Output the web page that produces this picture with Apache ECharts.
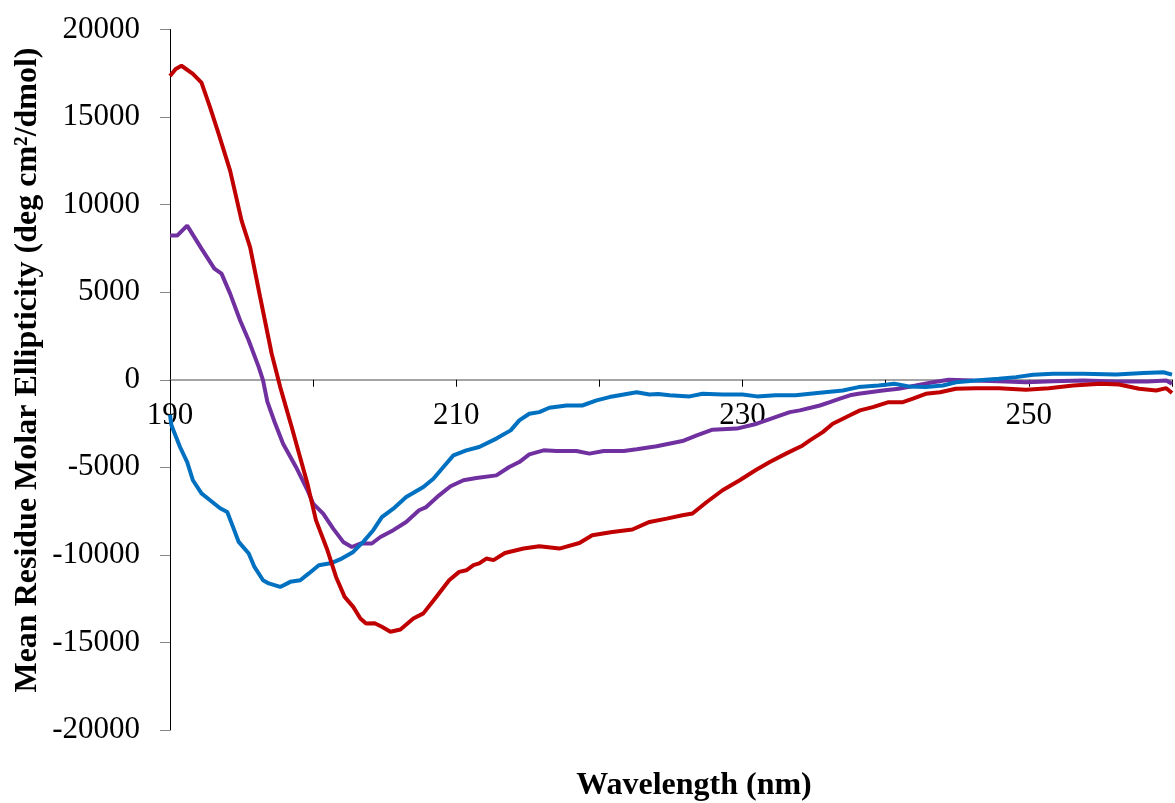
<!DOCTYPE html>
<html>
<head>
<meta charset="utf-8">
<script src="https://cdn.jsdelivr.net/npm/echarts@6/dist/echarts.min.js"></script>
<style>
html,body{margin:0;padding:0;background:#fff;}
#chart{width:1175px;height:803px;}
</style>
</head>
<body>
<div id="chart"></div>
<script>
// ---- Data ----
const yTitle = 'Mean Residue Molar Ellipticity (deg cm\u00B2/dmol)';
const xTitle = 'Wavelength (nm)';

const redWavelength = [190.0,190.4,190.8,191.6,192.2,192.8,193.4,194.2,195.0,195.6,196.3,197.1,197.7,198.5,199.6,200.2,201.0,201.6,202.2,202.8,203.3,203.7,204.3,204.8,205.4,206.1,207.0,207.7,208.6,209.5,210.2,210.7,211.2,211.6,212.1,212.6,213.4,214.7,215.8,217.2,218.6,219.5,220.9,222.3,223.5,224.7,225.8,226.5,227.5,228.6,229.8,230.9,231.9,233.1,234.2,234.7,235.6,236.3,237.5,238.2,239.1,240.2,241.2,241.9,242.8,243.8,244.9,246.3,247.9,249.8,251.4,253.1,255.0,256.3,257.7,258.9,259.6,260.0];
const redValues = [17350,17750,17930,17470,16970,15550,14040,11940,9085,7560,4710,1500,-420,-2700,-5930,-8030,-9740,-11260,-12400,-12970,-13630,-13920,-13900,-14100,-14390,-14260,-13630,-13340,-12400,-11450,-10970,-10880,-10590,-10490,-10210,-10300,-9890,-9640,-9510,-9640,-9320,-8880,-8690,-8550,-8120,-7930,-7740,-7640,-6980,-6310,-5740,-5170,-4700,-4190,-3750,-3460,-2990,-2510,-2030,-1750,-1560,-1280,-1280,-1080,-800,-710,-510,-480,-480,-570,-480,-330,-230,-270,-510,-610,-480,-760];

const purpleWavelength = [190.0,190.5,191.2,192.2,193.1,193.6,194.2,194.9,195.5,196.2,196.5,196.8,197.3,197.9,198.8,199.6,200.0,200.7,201.4,202.1,202.7,203.3,204.1,204.7,205.6,206.5,207.4,207.9,208.8,209.6,210.5,211.4,212.8,213.7,214.4,215.1,216.1,217.0,218.4,219.3,220.3,221.7,222.6,224.0,225.8,226.8,227.9,229.6,231.0,232.3,233.3,234.0,235.4,236.1,236.8,237.5,238.1,239.8,240.9,242.1,243.3,244.4,246.1,247.9,249.8,251.7,253.8,256.1,258.3,259.6,260.0];
const purpleValues = [8230,8230,8800,7490,6350,6060,4920,3380,2240,720,-40,-1250,-2400,-3650,-4980,-6300,-7070,-7640,-8500,-9260,-9550,-9350,-9350,-8980,-8590,-8120,-7450,-7270,-6600,-6080,-5740,-5610,-5460,-4980,-4700,-4260,-4030,-4070,-4070,-4220,-4070,-4070,-3970,-3800,-3500,-3180,-2850,-2790,-2510,-2130,-1850,-1750,-1470,-1280,-1080,-890,-800,-610,-510,-330,-140,0,-40,-80,-140,-80,-40,-100,-100,-40,-230];

const blueWavelength = [190.0,190.1,190.7,191.2,191.6,192.2,192.8,193.5,194.0,194.4,194.8,195.5,195.9,196.5,196.9,197.7,198.4,199.1,199.7,200.4,201.3,202.0,202.8,203.5,204.2,204.8,205.6,206.5,207.7,208.4,209.1,209.8,210.7,211.6,212.8,213.8,214.4,215.1,215.8,216.5,217.7,218.8,219.8,220.7,221.7,222.6,223.5,224.1,224.9,226.3,227.2,228.6,230.0,231.0,232.3,233.7,235.4,237.0,238.1,239.5,240.6,241.6,242.8,244.0,244.9,246.3,247.9,249.1,250.3,251.7,253.8,256.1,258.0,259.4,260.0];
const blueValues = [-2000,-2600,-3840,-4700,-5740,-6490,-6880,-7340,-7550,-8400,-9260,-9920,-10690,-11450,-11630,-11830,-11540,-11450,-11060,-10590,-10460,-10210,-9830,-9260,-8590,-7840,-7360,-6700,-6120,-5650,-4980,-4320,-4030,-3840,-3360,-2890,-2320,-1940,-1850,-1600,-1470,-1470,-1180,-990,-840,-710,-840,-810,-890,-950,-800,-840,-840,-950,-890,-890,-740,-610,-420,-330,-230,-380,-420,-330,-140,-40,60,150,290,340,340,300,380,430,290];

const xTicks = {min: 190, max: 260, step: 10, labelStep: 20};
const yTicks = {min: -20000, max: 20000, step: 5000};

function pairs(xs, ys) { return xs.map((x, i) => [x, ys[i]]); }

const gridTop = 29.5, gridBottom = 73, chartH = 803;
const plotH = chartH - gridTop - gridBottom;
// distance from bottom of plot up to the y = 0 line
const zeroOffset = plotH * (0 - yTicks.min) / (yTicks.max - yTicks.min);

const chart = echarts.init(document.getElementById('chart'), null, {renderer: 'canvas'});
const serif = '"Liberation Serif", "Times New Roman", serif';

chart.setOption({
  animation: false,
  backgroundColor: '#ffffff',
  grid: {left: 170, right: 2, top: gridTop, bottom: gridBottom, containLabel: false},
  xAxis: {
    type: 'value',
    position: 'bottom',
    offset: -zeroOffset,
    min: xTicks.min, max: xTicks.max, interval: xTicks.step,
    axisLine: {show: true, onZero: false, lineStyle: {color: '#868686', width: 1.5}},
    axisTick: {show: true, inside: false, length: 7, lineStyle: {color: '#000', width: 1}},
    axisLabel: {
      margin: 21, fontFamily: serif, fontSize: 31, color: '#000',
      formatter: v => ((v - xTicks.min) % xTicks.labelStep === 0 && v < xTicks.max) ? String(v) : ''
    },
    splitLine: {show: false}
  },
  yAxis: {
    type: 'value',
    min: yTicks.min, max: yTicks.max, interval: yTicks.step,
    axisLine: {show: true, onZero: false, lineStyle: {color: '#000', width: 1}},
    axisTick: {show: true, inside: false, length: 10, lineStyle: {color: '#868686', width: 1}},
    axisLabel: {margin: 30, fontFamily: serif, fontSize: 31, color: '#000', formatter: v => String(v)},
    splitLine: {show: false}
  },
  graphic: [
    {type: 'text', x: 28, y: 370, rotation: Math.PI / 2,
     style: {text: yTitle, font: 'bold 32px ' + serif, fill: '#000', textAlign: 'center', textVerticalAlign: 'middle'}},
    {type: 'text', x: 694, y: 786,
     style: {text: xTitle, font: 'bold 32px ' + serif, fill: '#000', textAlign: 'center', textVerticalAlign: 'middle'}}
  ],
  series: [
    {type: 'line', name: 'purple', data: pairs(purpleWavelength, purpleValues), showSymbol: false, smooth: false,
     lineStyle: {color: '#7030A0', width: 4}, itemStyle: {color: '#7030A0'}, z: 2},
    {type: 'line', name: 'blue', data: pairs(blueWavelength, blueValues), showSymbol: false, smooth: false,
     lineStyle: {color: '#0070C0', width: 4}, itemStyle: {color: '#0070C0'}, z: 3},
    {type: 'line', name: 'red', data: pairs(redWavelength, redValues), showSymbol: false, smooth: false,
     lineStyle: {color: '#C00000', width: 4}, itemStyle: {color: '#C00000'}, z: 4}
  ]
});
</script>
</body>
</html>
